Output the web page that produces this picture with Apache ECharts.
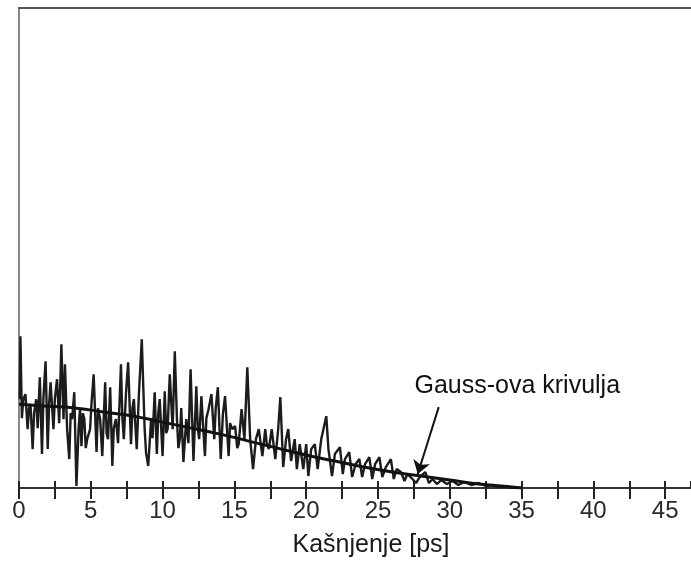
<!DOCTYPE html>
<html>
<head>
<meta charset="utf-8">
<script src="https://cdn.jsdelivr.net/npm/echarts@6/dist/echarts.min.js"></script>
<style>
html,body{margin:0;padding:0;background:#fff;}
#c{width:691px;height:563px;}
</style>
</head>
<body>
<div id="c"></div>
<script>
// x-axis tick labels (ps)
var xTickLabels = [0, 5, 10, 15, 20, 25, 30, 35, 40, 45];
var axisName = 'Kašnjenje [ps]';
var annotationText = 'Gauss-ova krivulja';

// measured delay profile: delay (ps) and amplitude (arbitrary units)
var noiseX = [0.05,0.1,0.2,0.3,0.45,0.6,0.7,0.8,0.95,1.05,1.2,1.3,1.45,1.6,1.7,1.85,2.0,2.1,2.2,2.4,2.5,2.65,2.8,2.95,3.1,3.2,3.35,3.5,3.6,3.7,3.85,4.0,4.15,4.25,4.35,4.45,4.55,4.65,4.75,4.95,5.05,5.2,5.4,5.5,5.65,5.8,6.0,6.1,6.2,6.35,6.5,6.6,6.75,6.9,7.1,7.2,7.3,7.45,7.6,7.8,7.9,8.0,8.2,8.35,8.55,8.75,8.85,9.0,9.2,9.3,9.45,9.6,9.7,9.8,10.0,10.15,10.25,10.35,10.5,10.7,10.85,11.0,11.1,11.2,11.3,11.45,11.65,11.8,11.95,12.15,12.35,12.45,12.55,12.7,12.95,13.05,13.2,13.4,13.6,13.7,13.85,14.05,14.2,14.35,14.6,14.7,14.85,15.05,15.2,15.3,15.5,15.7,15.9,16.1,16.3,16.5,16.7,16.95,17.15,17.25,17.4,17.6,17.85,18.05,18.2,18.4,18.6,18.75,18.95,19.2,19.35,19.55,19.8,20.0,20.15,20.35,20.6,20.8,21.05,21.4,21.55,21.8,22.0,22.35,22.55,22.7,23.0,23.2,23.45,23.7,23.9,24.1,24.4,24.6,24.8,25.1,25.3,25.55,25.9,26.1,26.3,26.6,26.85,27.05,27.4,27.65,27.9,28.3,28.55,28.8,29.1,29.4,29.8,30.2,30.6,31.0,31.5,32.0,32.5,33.0,33.5,34.0,34.5,35.0];
var noiseY = [89,152,70,89,94,59,80,84,39,75,89,60,111,34,90,127,39,85,106,59,90,109,65,144,69,124,59,29,75,69,96,2,59,80,42,75,69,40,49,59,85,114,36,80,69,32,106,55,49,101,22,60,69,45,124,70,49,95,126,44,80,89,39,94,149,59,35,22,69,50,96,34,75,89,32,97,55,59,114,59,137,69,40,49,80,26,69,45,119,27,102,60,49,92,32,70,79,94,49,80,101,29,74,92,32,65,59,62,40,44,79,49,121,49,19,49,59,32,59,45,39,59,29,59,91,21,49,59,27,49,19,44,19,44,12,39,44,19,49,72,39,12,34,41,14,29,36,11,24,29,11,24,31,9,24,31,11,21,29,9,19,16,7,14,9,5,11,16,5,9,4,8,4,7,3,6,3,5,2,3,1,1,0,0];

// Gaussian fit curve
var gaussX = [0,2,4,6,8,10,12,14,16,18,20,22,24,26,28,30,32,34,35];
var gaussY = [84,82,80,76,72,66,60,54,47,40,33,27,21,16,12,8,4,1.5,0];

// annotation anchor (data coordinates)
var labelAt = [34.7, 102];
var arrowFrom = [29.23, 81];
var arrowTo = [27.77, 14];

var chart = echarts.init(document.getElementById('c'), null, {renderer:'canvas'});
var FONT = 'Liberation Sans, Arial, Helvetica, sans-serif';

function zip(a, b){ return a.map(function(v,i){ return [v, b[i]]; }); }

var option = {
  animation: false,
  backgroundColor: '#fff',
  grid: {left: 19, right: 0, top: 8, bottom: 74, containLabel: false},
  xAxis: [
    {
      type: 'value', min: 0, max: 46.8, interval: 2.5, position: 'bottom',
      name: axisName, nameLocation: 'middle', nameGap: 45,
      nameTextStyle: {fontFamily: FONT, fontSize: 25, color: '#1a1a1a', padding: [0, 0, 0, 32]},
      axisLine: {show: true, lineStyle: {color: '#333', width: 2}},
      axisTick: {show: true, inside: false, length: 11, lineStyle: {color: '#222', width: 2}},
      axisLabel: {
        show: true, margin: 11, fontFamily: FONT, fontSize: 24, color: '#2a2a2a',
        showMaxLabel: false,
        formatter: function(v){ return xTickLabels.indexOf(v) >= 0 ? String(v) : ''; }
      },
      splitLine: {show: false}
    },
    {
      type: 'value', min: 0, max: 46.8, interval: 2.5, position: 'bottom',
      axisLine: {show: false},
      axisTick: {show: true, inside: true, length: 7, lineStyle: {color: '#222', width: 2}},
      axisLabel: {show: false}, splitLine: {show: false}
    },
    {
      type: 'value', min: 0, max: 46.8, position: 'top',
      axisLine: {show: true, lineStyle: {color: '#555', width: 2}},
      axisTick: {show: false}, axisLabel: {show: false}, splitLine: {show: false}
    }
  ],
  yAxis: {
    type: 'value', min: 0, max: 481,
    axisLine: {show: true, lineStyle: {color: '#888', width: 2}},
    axisTick: {show: false}, axisLabel: {show: false}, splitLine: {show: false}
  },
  series: [
    {
      type: 'line', data: zip(noiseX, noiseY), symbol: 'none',
      lineStyle: {color: '#1c1c1c', width: 2.4}, z: 2
    },
    {
      type: 'line', data: zip(gaussX, gaussY), symbol: 'none', smooth: true,
      lineStyle: {color: '#111', width: 3}, z: 3,
      markLine: {
        silent: true, symbol: ['none', 'arrow'], symbolSize: 13,
        label: {show: false},
        lineStyle: {color: '#111', width: 2, type: 'solid'},
        data: [[{coord: arrowFrom}, {coord: arrowTo}]]
      }
    }
  ]
};
chart.setOption(option);

var p = chart.convertToPixel({xAxisIndex: 0, yAxisIndex: 0}, labelAt);
chart.setOption({
  graphic: [{
    type: 'text', x: p[0], y: p[1],
    style: {text: annotationText, fontFamily: FONT, fontSize: 25, fill: '#111',
            align: 'center', verticalAlign: 'middle'}
  }]
});
</script>
</body>
</html>
